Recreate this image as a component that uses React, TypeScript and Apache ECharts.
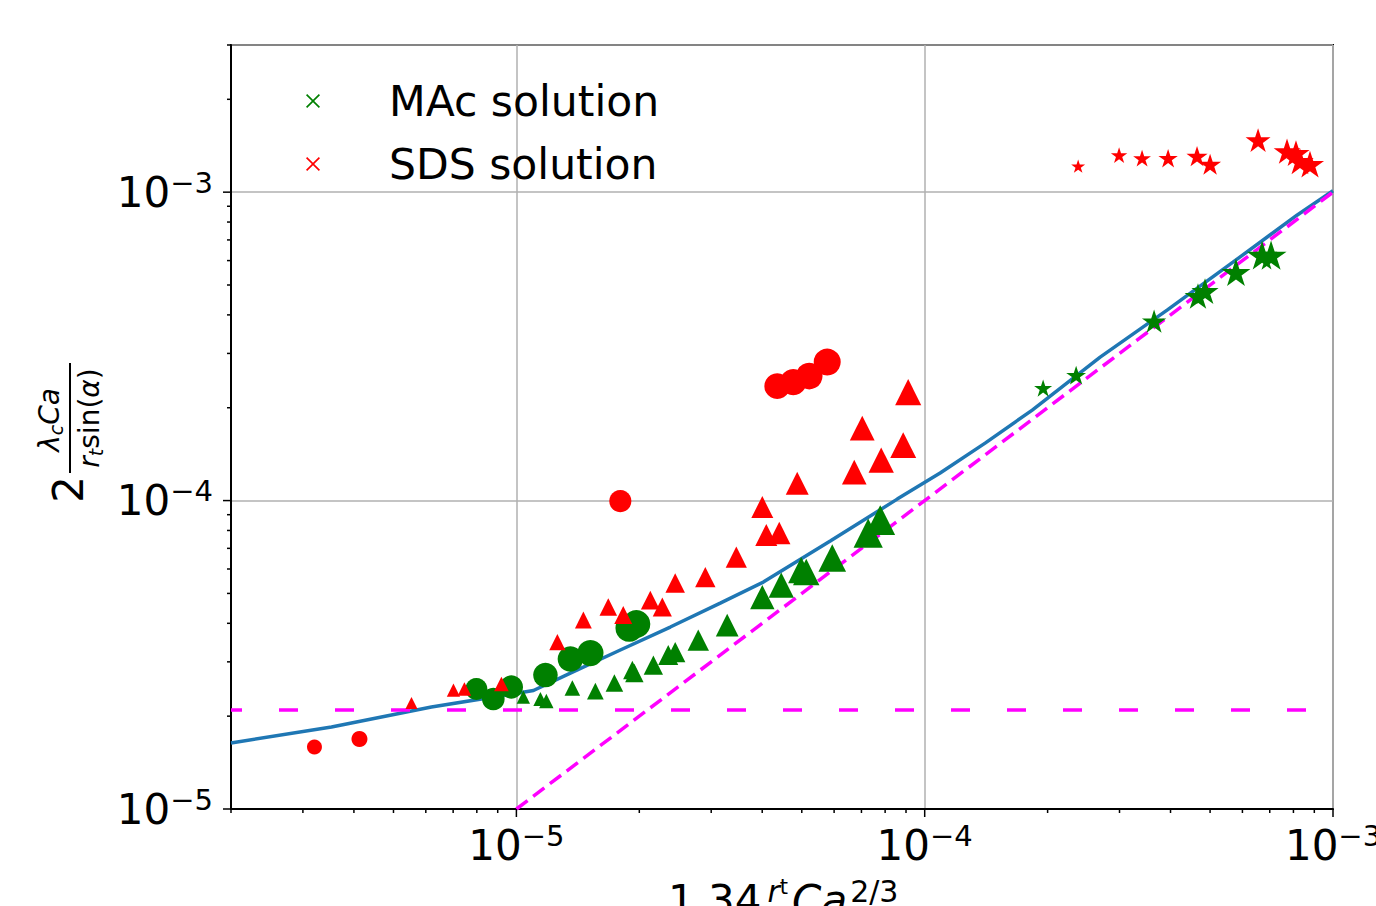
import React, { useEffect, useRef } from 'react';
import * as echarts from 'echarts';

// ---- axis ranges & ticks ----
const X_MIN = 2e-6;
const X_MAX = 1e-3;
const Y_MIN = 1e-5;
const Y_MAX = 3e-3;
const MAJOR_TICKS = [1e-5, 1e-4, 1e-3];
const X_DECADES = [1e-6, 1e-5, 1e-4];
const Y_DECADES = [1e-5, 1e-4, 1e-3];
const MINOR_MULTS = [2, 3, 4, 5, 6, 7, 8, 9];

// ---- data ----
const modelCurve = [
  [2.0e-6, 1.637e-5], [3.525e-6, 1.844e-5], [6.193e-6, 2.141e-5], [1.011e-5, 2.377e-5],
  [1.101e-5, 2.422e-5], [1.356e-5, 2.759e-5], [1.797e-5, 3.277e-5], [2.382e-5, 3.89e-5],
  [3.157e-5, 4.651e-5], [4.025e-5, 5.441e-5], [5.871e-5, 7.39e-5], [8.565e-5, 1.011e-4],
  [1.091e-4, 1.228e-4], [1.406e-4, 1.536e-4], [1.834e-4, 1.965e-4], [2.69e-4, 2.919e-4],
  [3.923e-4, 4.145e-4], [5.689e-4, 5.928e-4], [8.16e-4, 8.42e-4], [1.0e-3, 1.01e-3],
];
const plateauLine = [[2e-6, 2.094e-5], [1e-3, 2.094e-5]];
const asymptoteLine = [[1e-5, 1e-5], [1e-3, 1e-3]];

const macCircles = [
  [7.98e-6, 2.449e-5], [8.78e-6, 2.273e-5], [9.72e-6, 2.486e-5], [1.178e-5, 2.719e-5],
  [1.356e-5, 3.063e-5], [1.518e-5, 3.204e-5], [1.89e-5, 3.861e-5], [1.967e-5, 3.979e-5],
];
const macTriangles = [
  [1.04e-5, 2.307e-5], [1.145e-5, 2.273e-5], [1.184e-5, 2.239e-5], [1.371e-5, 2.467e-5],
  [1.561e-5, 2.412e-5], [1.738e-5, 2.561e-5], [1.923e-5, 2.822e-5], [1.945e-5, 2.759e-5],
  [2.165e-5, 2.929e-5], [2.355e-5, 3.155e-5], [2.449e-5, 3.227e-5], [2.789e-5, 3.529e-5],
  [3.283e-5, 3.949e-5], [4.002e-5, 4.865e-5], [4.453e-5, 5.32e-5], [4.984e-5, 5.953e-5],
  [5.127e-5, 5.865e-5], [5.937e-5, 6.512e-5], [7.271e-5, 7.847e-5], [7.782e-5, 8.646e-5],
];
const macStars = [
  [1.95e-4, 2.316e-4], [2.349e-4, 2.551e-4], [3.646e-4, 3.818e-4], [4.67e-4, 4.602e-4],
  [4.859e-4, 4.777e-4], [5.786e-4, 5.503e-4], [6.704e-4, 6.249e-4], [7.052e-4, 6.249e-4],
];
const sdsCircles = [
  [3.202e-6, 1.589e-5], [4.127e-6, 1.686e-5], [1.797e-5, 9.96e-5], [4.354e-5, 2.35e-4],
  [4.766e-5, 2.421e-4], [5.215e-5, 2.533e-4], [5.771e-5, 2.812e-4],
];
const sdsTriangles = [
  [5.534e-6, 2.206e-5], [7.011e-6, 2.431e-5], [7.459e-6, 2.449e-5], [9.19e-6, 2.542e-5],
  [1.26e-5, 3.477e-5], [1.459e-5, 4.099e-5], [1.679e-5, 4.517e-5], [1.827e-5, 4.253e-5],
  [2.128e-5, 4.758e-5], [2.277e-5, 4.517e-5], [2.449e-5, 5.401e-5], [2.902e-5, 5.649e-5],
  [3.456e-5, 6.561e-5], [4.002e-5, 9.526e-5], [4.093e-5, 7.73e-5], [4.403e-5, 7.847e-5],
  [4.873e-5, 1.139e-4], [6.722e-5, 1.237e-4], [7.031e-5, 1.718e-4], [7.825e-5, 1.353e-4],
  [8.859e-5, 1.513e-4], [9.111e-5, 2.247e-4],
];
const sdsStars = [
  [2.376e-4, 1.214e-3], [2.993e-4, 1.318e-3], [3.407e-4, 1.289e-3], [3.946e-4, 1.289e-3],
  [4.645e-4, 1.308e-3], [5.0e-4, 1.232e-3], [6.554e-4, 1.475e-3], [7.716e-4, 1.358e-3],
  [8.116e-4, 1.338e-3], [8.301e-4, 1.26e-3], [8.783e-4, 1.232e-3],
];

// ---- styles ----
const GREEN = '#008000';
const RED = '#ff0000';
const BLUE = '#1f77b4';
const MAGENTA = '#ff00ff';
const FONT = 'DejaVu Sans';
const X_ICON = 'path://M1,0L6,5L11,0L12,1L7,6L12,11L11,12L6,7L1,12L0,11L5,6L0,1Z';
const STAR = 'path://M100,0L122.45,69.1L195.11,69.1L136.33,111.8L158.78,180.9L100,138.2L41.22,180.9L63.67,111.8L4.89,69.1L77.55,69.1Z';

function grow(l1: number, s1: number, l2: number, s2: number) {
  return (v: number[]) => s1 + ((s2 - s1) * (Math.log10(v[0]) - l1)) / (l2 - l1);
}

type Tick = { axis: 'x' | 'y'; v: number; major: boolean };
function buildTicks(): Tick[] {
  const out: Tick[] = [];
  MAJOR_TICKS.forEach((v) => {
    out.push({ axis: 'x', v, major: true });
    out.push({ axis: 'y', v, major: true });
  });
  X_DECADES.forEach((d) =>
    MINOR_MULTS.forEach((m) => {
      const v = m * d;
      if (v >= X_MIN * 0.999 && v <= X_MAX) out.push({ axis: 'x', v, major: false });
    })
  );
  Y_DECADES.forEach((d) =>
    MINOR_MULTS.forEach((m) => {
      const v = m * d;
      if (v >= Y_MIN && v <= Y_MAX * 1.001) out.push({ axis: 'y', v, major: false });
    })
  );
  return out;
}
const TICKS = buildTicks();

const tickLabel = (v: number) => {
  const l = Math.log10(v);
  const e = Math.round(l);
  if (Math.abs(l - e) > 1e-6) return '';
  return `{b|10}{s|\u2212${Math.abs(e)}}`;
};
const labelRich = {
  b: { fontSize: 42, fontFamily: FONT, color: '#000', lineHeight: 48, verticalAlign: 'middle' },
  s: { fontSize: 29, fontFamily: FONT, color: '#000', lineHeight: 28, verticalAlign: 'top' },
};

export default function App() {
  const ref = useRef<HTMLDivElement>(null);
  useEffect(() => {
    if (!ref.current) return;
    const chart = echarts.init(ref.current, undefined, { renderer: 'svg' });
    const scatterBase = { type: 'scatter', silent: true, z: 4 };
    const option: any = {
      animation: false,
      backgroundColor: '#fff',
      grid: {
        left: 231, top: 45, right: 43, bottom: 97,
        outerBoundsMode: 'none', containLabel: false,
        show: true, borderColor: '#000', borderWidth: 2, backgroundColor: 'transparent',
      },
      legend: {
        orient: 'vertical', left: 306, top: 77, padding: 0, itemGap: 15,
        itemWidth: 14, itemHeight: 14, selectedMode: false,
        data: [
          { name: 'MAc solution', icon: X_ICON },
          { name: 'SDS solution', icon: X_ICON },
        ],
        textStyle: { fontSize: 42.5, fontFamily: FONT, color: '#000', lineHeight: 48, padding: [0, 0, 0, 64] },
      },
      xAxis: {
        type: 'log', logBase: 10, min: X_MIN, max: X_MAX,
        axisLine: { show: true, lineStyle: { color: '#000', width: 2 } },
        axisTick: { show: false },
        splitLine: { show: true, lineStyle: { color: '#b0b0b0', width: 1.5 } },
        axisLabel: { formatter: tickLabel, rich: labelRich, margin: 12, showMinLabel: true, showMaxLabel: true, hideOverlap: false },
      },
      yAxis: {
        type: 'log', logBase: 10, min: Y_MIN, max: Y_MAX,
        axisLine: { show: true, lineStyle: { color: '#000', width: 2 } },
        axisTick: { show: false },
        splitLine: { show: true, lineStyle: { color: '#b0b0b0', width: 1.5 } },
        axisLabel: { formatter: tickLabel, rich: labelRich, margin: 18, showMinLabel: true, showMaxLabel: true, hideOverlap: false },
      },
      graphic: [
        {
          type: 'group', x: 70, y: 418, rotation: Math.PI / 2,
          children: [
            { type: 'line', shape: { x1: -55, y1: 0, x2: 55, y2: 0 }, style: { stroke: '#000', lineWidth: 2 } },
            {
              type: 'text', x: -2, y: -5,
              style: {
                text: '{i|\u03bb}{sub|c}{i|Ca}', align: 'center', verticalAlign: 'bottom',
                rich: {
                  i: { fontSize: 28, fontFamily: FONT, fontStyle: 'italic', lineHeight: 32, color: '#000' },
                  sub: { fontSize: 19, fontFamily: FONT, fontStyle: 'italic', lineHeight: 20, verticalAlign: 'bottom', color: '#000' },
                },
              },
            },
            {
              type: 'text', x: 0, y: 3,
              style: {
                text: '{i|r}{sub|t}{n|sin(}{i|\u03b1}{n|)}', align: 'center', verticalAlign: 'top',
                rich: {
                  i: { fontSize: 28, fontFamily: FONT, fontStyle: 'italic', lineHeight: 32, color: '#000' },
                  n: { fontSize: 28, fontFamily: FONT, lineHeight: 32, color: '#000' },
                  sub: { fontSize: 19, fontFamily: FONT, fontStyle: 'italic', lineHeight: 20, verticalAlign: 'bottom', color: '#000' },
                },
              },
            },
            {
              type: 'text', x: -58, y: -2,
              style: { text: '2', fontSize: 42, fontFamily: FONT, fill: '#000', align: 'right', verticalAlign: 'middle' },
            },
          ],
        },
        {
          type: 'text', left: 668, top: 876,
          style: {
            text: '{n|1.34}{sr|r}{st|t}{i|Ca}{sn|2/3}',
            rich: {
              n: { fontSize: 42, fontFamily: FONT, lineHeight: 48, color: '#000' },
              i: { fontSize: 42, fontFamily: FONT, fontStyle: 'italic', lineHeight: 48, color: '#000', padding: [0, 3, 0, 4] },
              sr: { fontSize: 30, fontFamily: FONT, fontStyle: 'italic', lineHeight: 30, verticalAlign: 'top', color: '#000', padding: [0, 0, 0, 6] },
              st: { fontSize: 21, fontFamily: FONT, lineHeight: 40, verticalAlign: 'top', color: '#000' },
              sn: { fontSize: 30, fontFamily: FONT, lineHeight: 30, verticalAlign: 'top', color: '#000' },
            },
          },
        },
      ],
      series: [
        {
          name: 'model', type: 'line', data: modelCurve, symbol: 'none', silent: true, z: 3,
          lineStyle: { color: BLUE, width: 3.5 },
        },
        {
          name: 'plateau', type: 'line', data: plateauLine, symbol: 'none', silent: true, z: 3,
          lineStyle: { color: MAGENTA, width: 3.5, type: [19, 37], dashOffset: 8 },
        },
        {
          name: 'asymptote', type: 'line', data: asymptoteLine, symbol: 'none', silent: true, z: 3,
          lineStyle: { color: MAGENTA, width: 3.5, type: [14, 7] },
        },
        { ...scatterBase, name: 'MAc solution', data: macCircles, symbol: 'circle', symbolSize: grow(-5.1, 22, -4.7, 28), itemStyle: { color: GREEN, opacity: 1 } },
        { ...scatterBase, name: 'MAc solution', data: macTriangles, symbol: 'triangle', symbolSize: grow(-5, 13, -4.1, 30), itemStyle: { color: GREEN, opacity: 1 } },
        { ...scatterBase, name: 'MAc solution', data: macStars, symbol: STAR, symbolKeepAspect: true, symbolSize: grow(-3.71, 18, -3.15, 31), itemStyle: { color: GREEN, opacity: 1 } },
        { ...scatterBase, name: 'SDS solution', data: sdsCircles, symbol: 'circle', symbolSize: grow(-5.49, 15, -4.24, 27), itemStyle: { color: RED, opacity: 1 } },
        { ...scatterBase, name: 'SDS solution', data: sdsTriangles, symbol: 'triangle', symbolSize: grow(-5.26, 12, -4.05, 26), itemStyle: { color: RED, opacity: 1 } },
        { ...scatterBase, name: 'SDS solution', data: sdsStars, symbol: STAR, symbolKeepAspect: true, symbolSize: grow(-3.62, 14, -3.06, 28), itemStyle: { color: RED, opacity: 1 } },
        {
          name: 'ticks', type: 'custom', silent: true, clip: false, z: 5,
          data: TICKS.map((t) => (t.axis === 'x' ? [t.v, Y_MIN] : [X_MIN, t.v])),
          renderItem: (params: any, api: any) => {
            const t = TICKS[params.dataIndex];
            const len = t.major ? 8 : 4;
            if (t.axis === 'x') {
              const p = api.coord([t.v, Y_MIN]);
              return { type: 'line', shape: { x1: p[0], y1: p[1], x2: p[0], y2: p[1] + len }, style: { stroke: '#000', lineWidth: 1.5 } };
            }
            const p = api.coord([X_MIN, t.v]);
            return { type: 'line', shape: { x1: p[0] - len, y1: p[1], x2: p[0], y2: p[1] }, style: { stroke: '#000', lineWidth: 1.5 } };
          },
        },
      ],
    };
    chart.setOption(option);
    return () => chart.dispose();
  }, []);
  return <div ref={ref} style={{ position: 'fixed', left: 0, top: 0, width: 1376, height: 906, background: '#fff' }} />;
}
